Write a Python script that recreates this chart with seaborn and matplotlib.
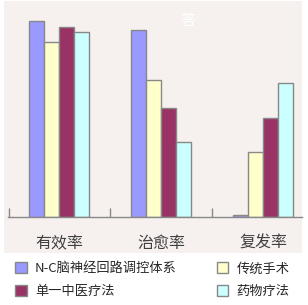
import matplotlib
matplotlib.use("Agg")
import matplotlib.pyplot as plt
from matplotlib.patches import Patch, Rectangle
import seaborn as sns
import pandas as pd

categories = ["有效率", "治愈率", "复发率"]
methods = ["N-C脑神经回路调控体系", "单一中医疗法", "传统手术", "药物疗法"]
nc_values = [96, 92, 1]
tcm_values = [93, 53.5, 48.5]
surgery_values = [86, 67, 32]
drug_values = [91, 37, 66]
colors = {"N-C脑神经回路调控体系": "#9999FF", "传统手术": "#FFFFCC",
          "单一中医疗法": "#993366", "药物疗法": "#CCFFFF"}
hue_order = ["N-C脑神经回路调控体系", "传统手术", "单一中医疗法", "药物疗法"]

series = {"N-C脑神经回路调控体系": nc_values, "单一中医疗法": tcm_values,
          "传统手术": surgery_values, "药物疗法": drug_values}
rows = []
for m, vals in series.items():
    for c, v in zip(categories, vals):
        rows.append({"指标": c, "方法": m, "值": v})
df = pd.DataFrame(rows)

sns.set_style("white")
plt.rcParams["font.family"] = ["Noto Sans CJK SC", "DejaVu Sans"]

W, H = 308, 305
fig = plt.figure(figsize=(W / 100, H / 100), dpi=100)
fig.patch.set_facecolor("white")
# panel background
fig.add_artist(Rectangle((4 / W, 1 - 253 / H), 298 / W, 252 / H,
                         transform=fig.transFigure, facecolor="#F6F1EF",
                         edgecolor="none", zorder=0))

ax = fig.add_axes([8 / W, 1 - 217 / H, 294 / W, 216 / H])
ax.set_facecolor("none")
sns.barplot(data=df, x="指标", y="值", hue="方法", hue_order=hue_order,
            order=categories, palette=colors, width=0.588,
            edgecolor="#888888", linewidth=1.0, saturation=1,
            legend=False, ax=ax)
ax.set_ylim(0, 106)
ax.set_xlim(-0.5, 2.5 - 12 / 102)
ax.set_xlabel("")
ax.set_ylabel("")
ax.set_yticks([])
for s in ["top", "right", "left"]:
    ax.spines[s].set_visible(False)
ax.spines["bottom"].set_color("#888888")
ax.spines["bottom"].set_linewidth(1.0)
ax.set_xticks(range(len(categories)))
ax.set_xticklabels(categories, fontsize=11.5, color="#404040")
ax.tick_params(axis="x", which="major", bottom=True, length=0, pad=13)
ax.set_xticks([-0.5 + 0.01, 0.5, 1.5], minor=True)
ax.tick_params(axis="x", which="minor", bottom=True, direction="in",
               length=6.5, width=1.0, color="#888888")

fig.text(188 / W, 1 - 20 / H, "答", color="white", fontsize=11,
         ha="center", va="center")

handles = [Patch(facecolor=colors[m], edgecolor="#888888", linewidth=1.0, label=m)
           for m in methods]
fig.legend(handles=handles, ncol=2, loc="upper left",
           bbox_to_anchor=(10 / W, 1 - 257 / H), frameon=False,
           fontsize=9.5, handlelength=0.9, handleheight=0.9,
           handletextpad=0.6, columnspacing=3.0, labelspacing=0.75,
           borderaxespad=0)

fig.savefig("out.png", dpi=100)
